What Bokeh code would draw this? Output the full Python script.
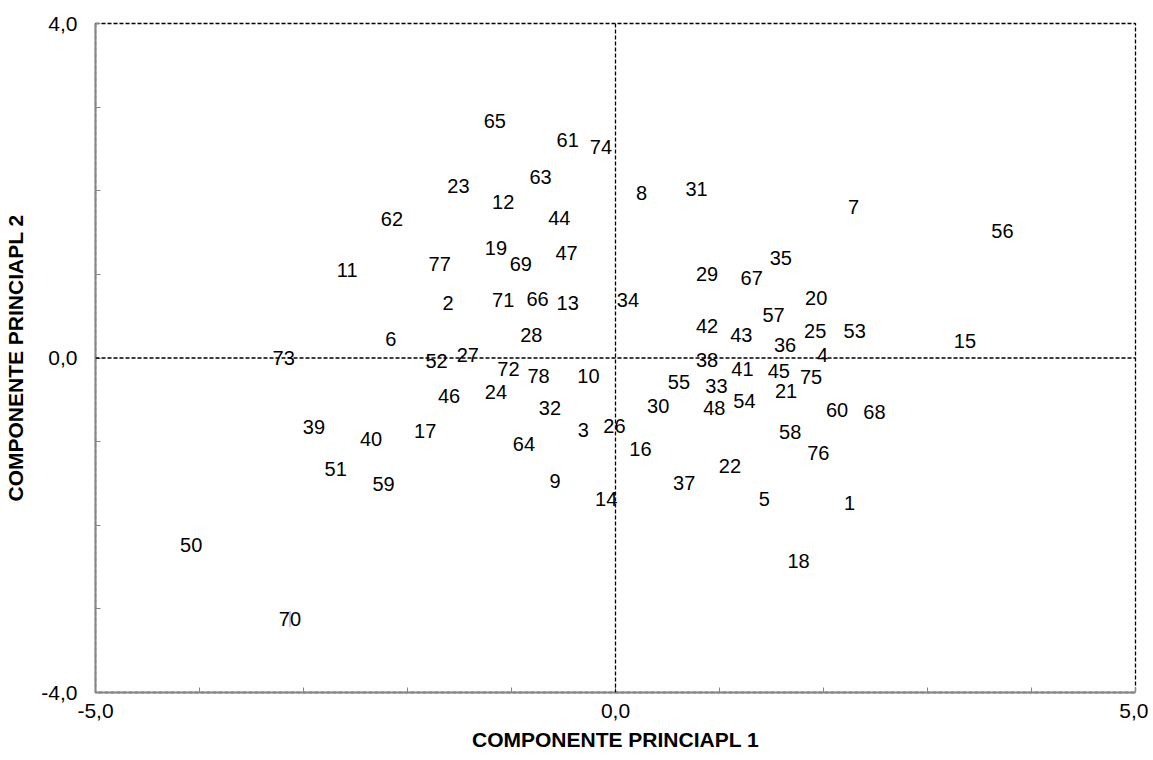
import numpy as np
from bokeh.plotting import figure
from bokeh.models import ColumnDataSource, FixedTicker, CustomJSTickFormatter, Span, Range1d
from bokeh.core.properties import value
from bokeh.embed import file_html
from bokeh.resources import INLINE

labels = ["65", "61", "74", "63", "8", "31", "7", "56", "23", "12", "44", "62", "19", "69", "47",
          "11", "77", "29", "67", "35", "20", "2", "71", "66", "13", "34", "57", "42", "43", "25",
          "53", "15", "6", "28", "36", "4", "73", "52", "27", "38", "72", "78", "10", "41", "45",
          "75", "55", "33", "21", "24", "46", "30", "32", "48", "54", "60", "68", "39", "40", "17",
          "3", "26", "58", "64", "16", "76", "51", "22", "59", "9", "37", "14", "5", "1", "50",
          "18", "70"]
pc1 = [-1.16, -0.46, -0.14, -0.72, 0.25, 0.78, 2.29, 3.72, -1.51, -1.08, -0.54, -2.15, -1.15, -0.91, -0.47,
       -2.58, -1.69, 0.88, 1.31, 1.59, 1.93, -1.61, -1.08, -0.75, -0.46, 0.12, 1.52, 0.88, 1.21, 1.92,
       2.30, 3.36, -2.16, -0.81, 1.63, 1.99, -3.19, -1.72, -1.42, 0.88, -1.03, -0.74, -0.26, 1.22, 1.57,
       1.88, 0.61, 0.97, 1.64, -1.15, -1.60, 0.41, -0.63, 0.95, 1.24, 2.13, 2.49, -2.90, -2.35, -1.83,
       -0.31, -0.01, 1.68, -0.88, 0.24, 1.95, -2.69, 1.10, -2.23, -0.58, 0.66, -0.09, 1.43, 2.25, -4.08,
       1.76, -3.13]
pc2 = [2.84, 2.61, 2.52, 2.16, 1.97, 2.02, 1.81, 1.52, 2.06, 1.86, 1.68, 1.66, 1.32, 1.12, 1.26,
       1.05, 1.12, 1.01, 0.96, 1.20, 0.72, 0.66, 0.69, 0.71, 0.66, 0.69, 0.52, 0.38, 0.28, 0.32,
       0.32, 0.20, 0.23, 0.28, 0.16, 0.03, 0.00, -0.04, 0.03, -0.02, -0.13, -0.21, -0.22, -0.13, -0.16,
       -0.23, -0.29, -0.34, -0.40, -0.41, -0.46, -0.57, -0.60, -0.60, -0.52, -0.62, -0.64, -0.83, -0.97, -0.87,
       -0.86, -0.81, -0.88, -1.03, -1.09, -1.14, -1.33, -1.29, -1.51, -1.47, -1.50, -1.69, -1.69, -1.73, -2.24,
       -2.43, -3.12]

x_ticks = [-5, 0, 5]
y_ticks = [-4, 0, 4]

FONT = "Liberation Sans"

p = figure(width=1148, height=758, output_backend="svg", toolbar_location=None,
           x_range=Range1d(-5, 5), y_range=Range1d(-4, 4),
           min_border_left=95, min_border_right=13, min_border_top=23, min_border_bottom=66)
p.background_fill_color = "white"
p.border_fill_color = "white"
p.grid.visible = False
p.outline_line_color = "black"
p.outline_line_dash = "4 2"
p.outline_line_width = 1.3

fmt = CustomJSTickFormatter(code="return tick.toFixed(1).replace('.', ',');")

for ax, ticks, minor in ((p.xaxis[0], x_ticks, list(range(-4, 5))), (p.yaxis[0], y_ticks, list(range(-3, 4)))):
    ax.ticker = FixedTicker(ticks=ticks, minor_ticks=minor)
    ax.formatter = fmt
    ax.axis_line_color = "#868686"
    ax.axis_line_width = 2
    ax.major_tick_line_color = "#868686"
    ax.minor_tick_line_color = "#868686"
    ax.major_tick_in = 5
    ax.major_tick_out = 0
    ax.minor_tick_in = 5
    ax.minor_tick_out = 0
    ax.major_label_text_font = FONT
    ax.major_label_text_font_size = "21px"
    ax.major_label_text_color = "black"
    ax.axis_label_text_font = FONT
    ax.axis_label_text_font_size = "21px"
    ax.axis_label_text_font_style = "bold"
    ax.axis_label_text_color = "black"

p.xaxis.axis_label = "COMPONENTE PRINCIAPL 1"
p.yaxis.axis_label = "COMPONENTE PRINCIAPL 2"
p.xaxis.major_label_standoff = 11
p.xaxis.axis_label_standoff = 7
p.yaxis.major_label_standoff = 18
p.yaxis.axis_label_standoff = 11
p.yaxis.major_label_orientation = "horizontal"

p.add_layout(Span(location=0, dimension="width", line_color="black", line_dash="4 2", line_width=1.3))
p.add_layout(Span(location=0, dimension="height", line_color="black", line_dash="4 2", line_width=1.3))

src = ColumnDataSource(data=dict(x=pc1, y=pc2, t=labels))

i70 = labels.index("70")
p.scatter(x=[pc1[i70]], y=[pc2[i70]], marker="dash", angle=np.pi / 2, size=16,
          line_color="#c9c6e6", line_width=2)

p.text(x="x", y="y", text="t", source=src, text_align="center", text_baseline="middle",
       text_font=value(FONT), text_font_size="20px", text_color="black")

open("out.html", "w").write(file_html(p, INLINE))
